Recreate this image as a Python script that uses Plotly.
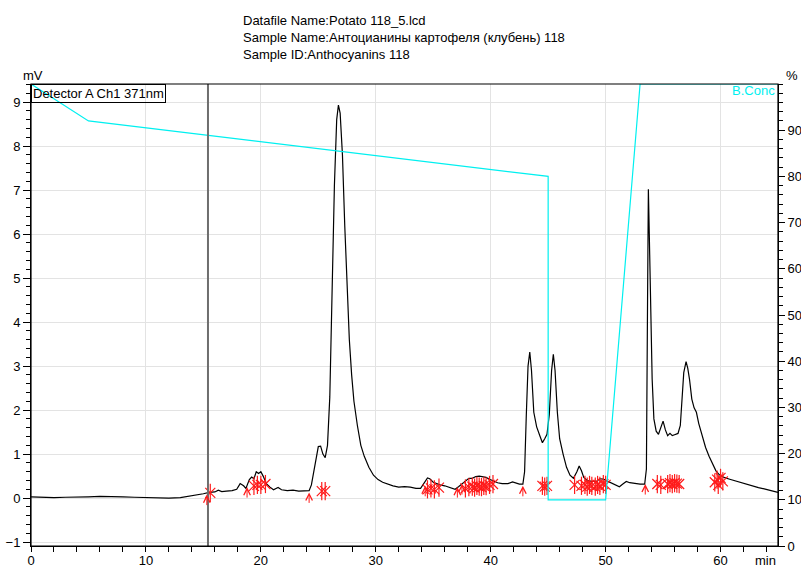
import plotly.graph_objects as go

# ---- chromatogram signal (Detector A Ch1 371nm) ----
time_min = [
    0.0, 1.0, 2.0, 3.0, 4.0, 5.0, 6.0, 7.0, 8.0, 9.0, 10.0, 11.0, 12.0, 13.0,
    13.5, 14.0, 14.5, 15.0, 15.5, 16.0, 16.3, 16.6, 17.0, 17.5, 17.9, 18.2,
    18.5, 18.7, 19.0, 19.2, 19.4, 19.6, 19.8, 20.0, 20.2, 20.5, 20.8, 21.1,
    21.5, 21.8, 22.3, 22.8, 23.3, 23.8, 24.2, 24.4, 24.6, 24.8, 25.0, 25.2,
    25.4, 25.6, 25.8, 26.0, 26.2, 26.4, 26.6, 26.75, 26.9, 27.1, 27.3, 27.5,
    27.7, 27.9, 28.1, 28.4, 28.7, 29.0, 29.4, 29.8, 30.2, 30.6, 31.0, 31.5,
    32.0, 32.5, 33.0, 33.5, 33.9, 34.2, 34.5, 34.7, 35.0, 35.3, 35.6, 36.0,
    36.5, 36.9, 37.2, 37.5, 37.8, 38.1, 38.4, 38.7, 39.0, 39.3, 39.6, 39.9,
    40.2, 40.6, 41.0, 41.5, 41.9, 42.2, 42.5, 42.8, 42.95, 43.1, 43.25, 43.4,
    43.55, 43.75, 44.0, 44.3, 44.5, 44.7, 44.9, 45.1, 45.3, 45.45, 45.6, 45.8,
    46.0, 46.3, 46.6, 46.9, 47.2, 47.5, 47.7, 47.9, 48.1, 48.4, 48.8, 49.2,
    49.5, 49.8, 50.1, 50.5, 50.9, 51.2, 51.5, 51.8, 52.1, 52.6, 53.0, 53.4,
    53.55, 53.65, 53.72, 53.8, 53.9, 54.05, 54.2, 54.4, 54.6, 54.8, 55.0, 55.2,
    55.4, 55.6, 55.8, 56.0, 56.3, 56.5, 56.65, 56.8, 57.0, 57.15, 57.3, 57.5,
    57.7, 57.9, 58.1, 58.4, 58.7, 59.0, 59.3, 59.6, 59.9, 60.3, 60.8, 61.3,
    61.8, 62.3, 62.8, 63.3, 63.8, 64.3, 65.0,
]
signal_mv = [
    0.03, 0.02, 0.01, 0.02, 0.02, 0.03, 0.04, 0.04, 0.03, 0.02, 0.01, 0.01, 0.00, 0.01,
    0.03, 0.06, 0.08, 0.10, 0.13, 0.14, 0.18, 0.15, 0.16, 0.17, 0.20, 0.33,
    0.28, 0.22, 0.42, 0.48, 0.44, 0.60, 0.56, 0.60, 0.50, 0.32, 0.25, 0.19,
    0.24, 0.19, 0.17, 0.18, 0.16, 0.17, 0.17, 0.30, 0.60, 0.95, 1.17, 1.18,
    1.00, 0.92, 1.20, 2.30, 4.60, 7.10, 8.60, 8.93, 8.75, 7.80, 6.20, 4.70,
    3.60, 2.80, 2.20, 1.65, 1.20, 0.95, 0.70, 0.52, 0.42, 0.36, 0.32, 0.28,
    0.25, 0.26, 0.25, 0.22, 0.22, 0.35, 0.46, 0.44, 0.36, 0.33, 0.30, 0.28,
    0.24, 0.20, 0.26, 0.33, 0.38, 0.45, 0.45, 0.49, 0.50, 0.48, 0.47, 0.43,
    0.39, 0.35, 0.33, 0.33, 0.37, 0.34, 0.32, 0.32, 0.60, 1.90, 3.00, 3.32,
    2.90, 1.95, 1.62, 1.40, 1.26, 1.35, 1.45, 1.90, 2.90, 3.27, 2.90, 1.95,
    1.35, 1.00, 0.70, 0.52, 0.45, 0.60, 0.73, 0.62, 0.47, 0.40, 0.38, 0.38,
    0.44, 0.43, 0.39, 0.35, 0.30, 0.26, 0.32, 0.38, 0.35, 0.33, 0.32, 0.32,
    0.66, 4.50, 7.02, 6.00, 4.40, 2.70, 1.80, 1.52, 1.45, 1.60, 1.75, 1.55,
    1.42, 1.47, 1.42, 1.44, 1.47, 1.65, 2.30, 2.85, 3.10, 2.95, 2.70, 2.25,
    2.05, 1.95, 1.70, 1.40, 1.15, 0.95, 0.77, 0.62, 0.53, 0.47, 0.43, 0.39,
    0.35, 0.32, 0.28, 0.24, 0.21, 0.17, 0.13,
]

# ---- B.Conc gradient program (%) ----
grad_time = [0.0, 5.0, 45.0, 45.0, 50.0, 53.0, 65.0]
grad_conc = [100.0, 92.0, 80.0, 10.0, 10.0, 100.0, 100.0]

# ---- peak integration marks ----
# peak start arrows (time, arrow tip level in mV)
start_time = [15.3, 18.8, 24.2, 34.3, 37.1, 37.5, 42.8, 53.45]
start_mv = [0.08, 0.25, 0.13, 0.28, 0.25, 0.32, 0.28, 0.32]

mark_time = [
    15.6, 19.4, 19.7, 20.0, 20.4, 25.3, 25.6,
    34.5, 34.8, 35.1, 35.5,
    37.8, 38.1, 38.4, 38.6, 38.8, 39.0, 39.2, 39.4, 39.6, 39.9, 40.2,
    44.5, 44.7, 44.9,
    47.3, 47.9, 48.2, 48.4, 48.6, 48.8, 49.1, 49.3, 49.5, 49.8, 50.0,
    54.5, 54.8, 55.4, 55.6, 55.8, 56.0, 56.2, 56.4,
    59.5, 59.7, 59.8, 60.0, 60.2,
]
mark_mv = [
    0.12, 0.28, 0.30, 0.30, 0.32, 0.16, 0.16,
    0.20, 0.22, 0.20, 0.24,
    0.22, 0.25, 0.26, 0.24, 0.28, 0.26, 0.25, 0.28, 0.27, 0.30, 0.32,
    0.28, 0.26, 0.28,
    0.30, 0.28, 0.30, 0.26, 0.30, 0.28, 0.26, 0.30, 0.28, 0.32, 0.30,
    0.32, 0.30, 0.32, 0.34, 0.32, 0.34, 0.33, 0.32,
    0.36, 0.42, 0.30, 0.46, 0.38,
]

# vertical time cursor
cursor_time = 15.4

header_lines = [
    "Datafile Name:Potato 118_5.lcd",
    "Sample Name:Антоцианины картофеля (клубень) 118",
    "Sample ID:Anthocyanins 118",
]

W, H = 801, 567
ML, MR, MT, MB = 31, 23, 84, 21
PW, PH = W - ML - MR, H - MT - MB
FONT = "Arial, Liberation Sans, sans-serif"
RED = "#ff1a1a"
CYAN = "#00f0f0"


def px(x):
    return (x - ML) / PW


def py(y):
    return (H - MB - y) / PH


fig = go.Figure()

fig.add_trace(go.Scatter(
    x=time_min, y=signal_mv, mode="lines",
    line=dict(color="black", width=1.2), hoverinfo="skip", showlegend=False,
))

fig.add_trace(go.Scatter(
    x=grad_time, y=grad_conc, mode="lines", yaxis="y2",
    line=dict(color=CYAN, width=1.2), hoverinfo="skip", showlegend=False,
))

# asterisk marks: vertical bar + diagonal cross
fig.add_trace(go.Scatter(
    x=mark_time, y=mark_mv, mode="markers",
    marker=dict(symbol="line-ns-open", size=13, color=RED,
                line=dict(color=RED, width=1.2)),
    hoverinfo="skip", showlegend=False,
))
fig.add_trace(go.Scatter(
    x=mark_time, y=mark_mv, mode="markers",
    marker=dict(symbol="x-thin-open", size=10, color=RED,
                line=dict(color=RED, width=1.2)),
    hoverinfo="skip", showlegend=False,
))

fig.add_shape(
    type="line", xref="x", yref="paper", x0=cursor_time, x1=cursor_time,
    y0=0, y1=1, line=dict(color="#6e6e6e", width=2),
)

# plot frame
fig.add_shape(
    type="rect", xref="paper", yref="paper", x0=0, x1=1, y0=0, y1=1,
    line=dict(color="black", width=1.2),
)

annotations = []
# peak start arrows, drawn as annotation arrows pointing up at the data point
for t, v in zip(start_time, start_mv):
    annotations.append(dict(
        x=t, y=v, xref="x", yref="y", text="", showarrow=True,
        ax=0, ay=12, arrowhead=5, arrowsize=1.3, arrowwidth=1,
        arrowcolor=RED, standoff=0, startstandoff=0,
    ))
for i, line in enumerate(header_lines):
    annotations.append(dict(
        text=line, xref="paper", yref="paper", x=px(241), y=py(21 + 17 * i),
        xanchor="left", yanchor="middle", showarrow=False,
        font=dict(family=FONT, size=13, color="black"),
    ))
annotations += [
    dict(text="mV", xref="paper", yref="paper", x=px(33), y=py(76),
         xanchor="center", yanchor="middle", showarrow=False,
         font=dict(family=FONT, size=13, color="black")),
    dict(text="%", xref="paper", yref="paper", x=px(792), y=py(75),
         xanchor="center", yanchor="middle", showarrow=False,
         font=dict(family=FONT, size=13, color="black")),
    dict(text="min", xref="paper", yref="paper", x=px(778), y=py(560),
         xanchor="right", yanchor="middle", showarrow=False,
         font=dict(family=FONT, size=13, color="black")),
    dict(text="B.Conc", xref="paper", yref="paper", x=px(777), y=py(90),
         xanchor="right", yanchor="middle", showarrow=False,
         font=dict(family=FONT, size=13, color=CYAN)),
    dict(text="Detector A Ch1 371nm", xref="paper", yref="paper", x=0, y=1,
         xanchor="left", yanchor="top", showarrow=False,
         bordercolor="black", borderwidth=1, borderpad=1,
         font=dict(family=FONT, size=13, color="black")),
]

fig.update_layout(
    width=W, height=H,
    margin=dict(l=ML, r=MR, t=MT, b=MB, pad=0, autoexpand=False),
    paper_bgcolor="white", plot_bgcolor="white",
    font=dict(family=FONT, size=13, color="black"),
    annotations=annotations,
    xaxis=dict(
        range=[0, 65], automargin=False,
        showgrid=True, gridcolor="#e3e3e3", gridwidth=1,
        zeroline=False, showline=True, linecolor="black", linewidth=1,
        ticks="outside", ticklen=5, tickcolor="black",
        tickvals=[0, 10, 20, 30, 40, 50, 60],
        ticklabelstandoff=-3,
        minor=dict(ticks="outside", dtick=2, tick0=0, ticklen=5,
                   tickcolor="black", showgrid=False),
        tickfont=dict(size=13),
    ),
    yaxis=dict(
        range=[-1.088, 9.41], automargin=False,
        tickvals=[-1, 0, 1, 2, 3, 4, 5, 6, 7, 8, 9],
        showgrid=True, gridcolor="#e3e3e3", gridwidth=1,
        zeroline=False, showline=True, linecolor="black", linewidth=1,
        ticks="outside", ticklen=7, tickcolor="black",
        minor=dict(ticks="outside", dtick=0.2, tick0=0, ticklen=4,
                   tickcolor="black", showgrid=False),
        tickfont=dict(size=13),
    ),
    yaxis2=dict(
        range=[0, 100], overlaying="y", side="right", automargin=False,
        tickvals=[0, 10, 20, 30, 40, 50, 60, 70, 80, 90],
        showgrid=False, zeroline=False,
        showline=True, linecolor="black", linewidth=1,
        ticks="outside", ticklen=6, tickcolor="black",
        minor=dict(ticks="outside", dtick=2, tick0=0, ticklen=4,
                   tickcolor="black", showgrid=False),
        tickfont=dict(size=13),
    ),
)

fig.write_html("out.html")
